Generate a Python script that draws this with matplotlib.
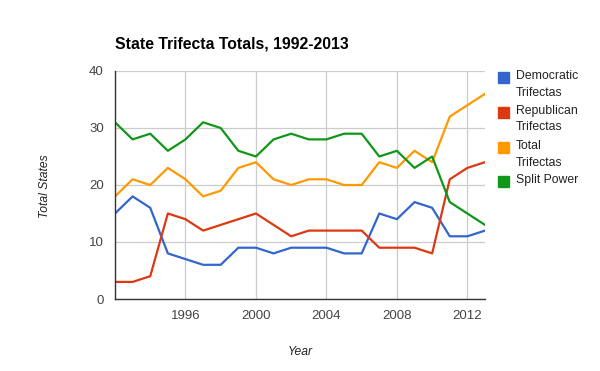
import matplotlib.pyplot as plt
from matplotlib.patches import Rectangle

years = list(range(1992, 2014))
democratic = [15, 18, 16, 8, 7, 6, 6, 9, 9, 8, 9, 9, 9, 8, 8, 15, 14, 17, 16, 11, 11, 12]
republican = [3, 3, 4, 15, 14, 12, 13, 14, 15, 13, 11, 12, 12, 12, 12, 9, 9, 9, 8, 21, 23, 24]
total = [18, 21, 20, 23, 21, 18, 19, 23, 24, 21, 20, 21, 21, 20, 20, 24, 23, 26, 24, 32, 34, 36]
split = [31, 28, 29, 26, 28, 31, 30, 26, 25, 28, 29, 28, 28, 29, 29, 25, 26, 23, 25, 17, 15, 13]

series = [democratic, republican, total, split]
labels = ['Democratic\nTrifectas', 'Republican\nTrifectas', 'Total\nTrifectas', 'Split Power']
colors = ['#3366cc', '#dc3912', '#ff9900', '#109618']
x_ticks = [1996, 2000, 2004, 2008, 2012]
y_ticks = [0, 10, 20, 30, 40]

plt.rcParams['font.family'] = ['Liberation Sans', 'DejaVu Sans']

W, H = 600, 371
fig = plt.figure(figsize=(6, 3.71), dpi=100)
ax = fig.add_axes([115 / W, 1 - 299 / H, 370 / W, 228 / H])

for vals, c in zip(series, colors):
    ax.plot(years, vals, color=c, lw=1.6, solid_joinstyle='round')

ax.set_xlim(1992, 2013)
ax.set_ylim(0, 40)
ax.set_xticks(x_ticks)
ax.set_yticks(y_ticks)
ax.grid(True, color='#cccccc', lw=0.9)
ax.set_axisbelow(True)
for s in ['top', 'right']:
    ax.spines[s].set_visible(False)
for s in ['left', 'bottom']:
    ax.spines[s].set_color('#333333')
    ax.spines[s].set_linewidth(1.0)
ax.tick_params(length=0, labelsize=9.5, labelcolor='#444444')
ax.tick_params(axis='x', pad=8)
ax.tick_params(axis='y', pad=8)

fig.text(115 / W, 1 - 44 / H, 'State Trifecta Totals, 1992-2013', fontsize=11.3,
         fontweight='bold', va='center', ha='left', color='#000000')
fig.text(45 / W, 1 - 186 / H, 'Total States', rotation=90, fontsize=8.7,
         style='italic', va='center', ha='center', color='#222222')
fig.text(300 / W, 1 - 352 / H, 'Year', fontsize=8.7, style='italic',
         va='center', ha='center', color='#222222')

# legend drawn by hand, like the original
tops = [72, 107, 142, 176]
for lab, c, t in zip(labels, colors, tops):
    fig.add_artist(Rectangle((498 / W, 1 - (t + 11) / H), 11 / W, 11 / H,
                             transform=fig.transFigure, color=c))
    fig.text(516 / W, 1 - (t - 2) / H, lab, fontsize=8.8, va='top', ha='left',
             color='#222222', linespacing=1.5)

fig.savefig('out.png', dpi=100)
